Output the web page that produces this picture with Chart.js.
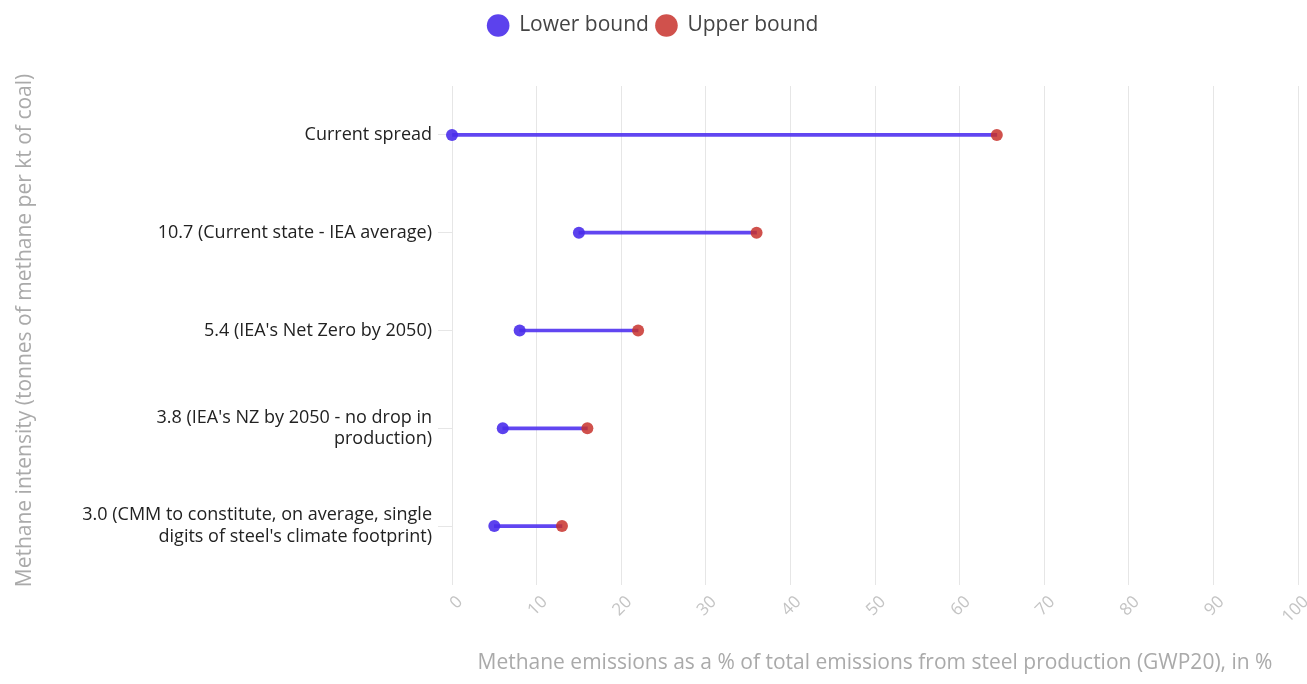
<!DOCTYPE html>
<html>
<head>
<meta charset="utf-8">
<script src="https://cdn.jsdelivr.net/npm/chart.js@4"></script>
<style>
  html, body { margin: 0; padding: 0; background: #fff; }
  #wrap { width: 1307px; height: 684px; }
</style>
</head>
<body>
<div id="wrap"><canvas id="chart"></canvas></div>
<script>
// Data
const scenarios = [
  'Current spread',
  '10.7 (Current state - IEA average)',
  "5.4 (IEA's Net Zero by 2050)",
  ["3.8 (IEA's NZ by 2050 - no drop in", 'production)'],
  ['3.0 (CMM to constitute, on average, single', "digits of steel's climate footprint)"]
];
const lowerBound = [0, 15, 8, 6, 5];
const upperBound = [64.4, 36, 22, 16, 13];

const blue = 'rgba(74, 46, 235, 0.9)';
const red = 'rgba(200, 50, 45, 0.85)';

Chart.defaults.font.family = '"Open Sans", Lato, sans-serif';

const spans = lowerBound.map((lo, i) => [lo, upperBound[i]]);

// room under the legend, so the plot starts lower
const legendGap = {
  id: 'legendGap',
  beforeInit(chart) {
    const fit = chart.legend.fit;
    chart.legend.fit = function () {
      fit.bind(chart.legend)();
      this.height = 78;
    };
  }
};

new Chart(document.getElementById('chart'), {
  type: 'bar',
  data: {
    labels: scenarios,
    datasets: [
      {
        label: 'range',
        data: spans,
        backgroundColor: 'rgba(80, 50, 240, 0.9)',
        barThickness: 3,
        order: 3
      },
      {
        type: 'line',
        label: 'Lower bound',
        data: lowerBound,
        showLine: false,
        clip: false,
        pointRadius: 6,
        pointHoverRadius: 6,
        backgroundColor: blue,
        borderColor: blue,
        pointBorderWidth: 0,
        order: 1
      },
      {
        type: 'line',
        label: 'Upper bound',
        data: upperBound,
        showLine: false,
        clip: false,
        pointRadius: 6,
        pointHoverRadius: 6,
        backgroundColor: red,
        borderColor: red,
        pointBorderWidth: 0,
        order: 2
      }
    ]
  },
  options: {
    indexAxis: 'y',
    responsive: true,
    maintainAspectRatio: false,
    animation: false,
    layout: { padding: { top: 8, right: 9, left: 8, bottom: 4 } },
    plugins: {
      legend: {
        position: 'top',
        labels: {
          filter: item => item.text !== 'range',
          usePointStyle: true,
          pointStyle: 'circle',
          boxHeight: 16,
          color: '#444',
          font: { size: 21 },
          padding: 7
        }
      },
      tooltip: { enabled: false }
    },
    scales: {
      x: {
        min: 0,
        max: 100,
        afterFit: scale => {
          scale.height = 105;
          scale.paddingRight = 0;
        },
        ticks: {
          stepSize: 10,
          color: '#c4c4c4',
          font: { size: 17 },
          maxRotation: 45,
          minRotation: 45,
          padding: 7,
          labelOffset: 8
        },
        grid: { color: '#e6e6e6', tickLength: 10, drawTicks: true },
        border: { display: false },
        title: {
          display: true,
          text: 'Methane emissions as a % of total emissions from steel production (GWP20), in %',
          color: '#aaa',
          font: { size: 21 },
          padding: { top: 12 }
        }
      },
      y: {
        afterFit: scale => { scale.width = 444; },
        ticks: { color: '#222', font: { size: 18 }, padding: 6 },
        grid: { drawOnChartArea: false, offset: false, color: '#e6e6e6', tickLength: 14 },
        border: { display: false },
        title: {
          display: true,
          text: 'Methane intensity (tonnes of methane per kt of coal)',
          color: '#aaa',
          font: { size: 21 },
          padding: { bottom: 10 }
        }
      }
    }
  },
  plugins: [legendGap]
});
</script>
</body>
</html>
